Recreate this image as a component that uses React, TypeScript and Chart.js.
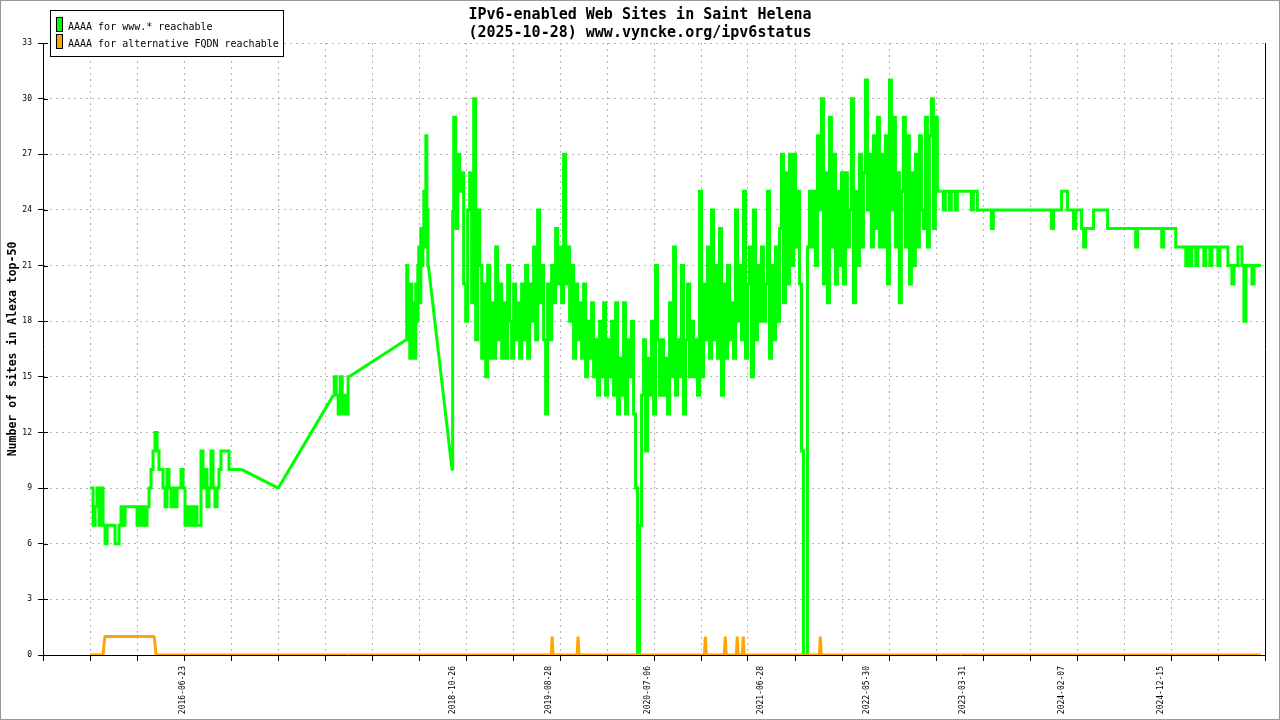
import React, { useEffect, useRef } from "react";
import { Chart, registerables } from "chart.js";

Chart.register(...registerables);

const MONO = "'DejaVu Sans Mono', 'Liberation Mono', monospace";
const DAY_MS = 86400000;
const GRID = "#b4b4b4";
const CLEAR = "rgba(0,0,0,0)";

const chartTitle = ["IPv6-enabled Web Sites in Saint Helena", "(2025-10-28) www.vyncke.org/ipv6status"];
const yAxisTitle = "Number of sites in Alexa top-50";
const seriesNames = ["AAAA for www.* reachable", "AAAA for alternative FQDN reachable"];
const seriesColors = ["#00ff00", "#ffa500"];

// x axis: dates, unlabeled ticks every ~149 days, labels at specific dates
const axisStartDate = "2015-04-08";
const xTickStepDays = 148.8;
const xTickIntervals = 26;
const xLabelDates = [
  "2016-06-23", "2018-10-26", "2019-08-28", "2020-07-06", "2021-06-28",
  "2022-05-30", "2023-03-31", "2024-02-07", "2024-12-15",
];
const yMax = 33;
const yStep = 3;

// ---- green series: AAAA for www.* reachable (regularly sampled runs + isolated samples) ----
const earlyRange = ["2015-09-04", "2016-12-28"];
const earlyValues = [
  9, 9, 7, 8, 9, 7, 9, 7, 6, 7,
  7, 7, 7, 6, 6, 7, 8, 7, 8, 8,
  8, 8, 8, 8, 7, 8, 7, 8, 7, 8,
  9, 10, 11, 12, 11, 10, 10, 9, 8, 10,
  9, 8, 9, 8, 9, 9, 10, 9, 7, 8,
  7, 8, 7, 8, 7, 7, 11, 9, 10, 8,
  9, 11, 9, 8, 9, 10, 11, 11, 11, 11,
  10, 10, 10, 10, 10, 10, 10,
];
const gapDates = ["2017-04-22"];
const gapValues = [9];
const clusterRange = ["2017-10-13", "2017-12-02"];
const clusterValues = [14, 15, 14, 13, 15, 13, 14, 13, 15];
const midRange = ["2018-06-01", "2018-08-10"];
const midValues = [17, 21, 17, 19, 16, 20, 17, 16, 19, 16, 20, 18, 21, 22, 19, 23, 21, 22, 25, 22, 28, 24, 21];
const dipDates = ["2018-10-24"];
const dipValues = [10];
const denseRange = ["2018-10-26", "2023-01-17"];
const denseValues = [
  24, 29, 23, 27, 25, 26, 20, 18, 24, 26,
  19, 30, 17, 24, 21, 16, 20, 15, 21, 16,
  19, 16, 22, 17, 20, 16, 19, 16, 21, 18,
  16, 20, 17, 19, 16, 20, 17, 21, 16, 20,
  18, 22, 17, 24, 19, 21, 17, 13, 20, 17,
  21, 19, 23, 20, 22, 19, 27, 20, 22, 18,
  21, 16, 20, 17, 19, 16, 20, 15, 18, 16,
  19, 15, 17, 14, 18, 15, 19, 14, 17, 15,
  18, 14, 19, 13, 16, 14, 19, 13, 17, 15,
  18, 13, 9, 0, 7, 14, 17, 11, 16, 14,
  18, 13, 21, 17, 14, 17, 14, 16, 13, 19,
  15, 22, 14, 17, 15, 21, 13, 17, 20, 15,
  18, 15, 17, 14, 25, 15, 20, 17, 22, 16,
  24, 17, 21, 16, 23, 14, 20, 16, 21, 17,
  19, 16, 24, 18, 21, 17, 25, 16, 20, 22,
  15, 24, 17, 21, 18, 22, 18, 20, 25, 16,
  21, 17, 22, 18, 23, 27, 19, 26, 20, 27,
  21, 27, 22, 25, 20, 11, 0, 0, 22, 25,
  22, 25, 21, 28, 24, 30, 20, 26, 19, 29,
  22, 27, 20, 25, 21, 26, 20, 26, 22, 24,
  30, 19, 25, 21, 27, 22, 26, 31, 24, 27,
  22, 28, 23, 29, 22, 27, 22, 28, 20, 31,
  24, 29, 22, 26, 19, 25, 29, 22, 28, 20,
  26, 21, 27, 22, 28, 24, 23, 29, 22, 28,
  30, 23, 29, 25, 25,
];
const lateRange = ["2023-01-23", "2025-10-28"];
const lateValues = [
  25, 24, 25, 25, 24, 25, 25, 24, 25, 25,
  25, 25, 25, 25, 25, 24, 25, 25, 24, 24,
  24, 24, 24, 24, 24, 23, 24, 24, 24, 24,
  24, 24, 24, 24, 24, 24, 24, 24, 24, 24,
  24, 24, 24, 24, 24, 24, 24, 24, 24, 24,
  24, 24, 24, 24, 24, 23, 24, 24, 24, 24,
  25, 25, 25, 24, 24, 24, 23, 24, 24, 24,
  23, 22, 23, 23, 23, 23, 24, 24, 24, 24,
  24, 24, 24, 23, 23, 23, 23, 23, 23, 23,
  23, 23, 23, 23, 23, 23, 23, 22, 23, 23,
  23, 23, 23, 23, 23, 23, 23, 23, 23, 23,
  22, 23, 23, 23, 23, 23, 23, 22, 22, 22,
  22, 22, 21, 22, 21, 22, 22, 21, 22, 22,
  22, 21, 22, 22, 21, 22, 22, 22, 21, 22,
  22, 22, 22, 21, 21, 20, 21, 21, 22, 22,
  21, 18, 21, 21, 21, 20, 21, 21, 21, 21,
];

// ---- orange series: AAAA for alternative FQDN reachable ----
const orangeDates = [
  "2015-09-04", "2015-10-15", "2015-10-21", "2016-03-25", "2016-03-31",
  "2019-09-03", "2019-09-06", "2019-09-09",
  "2019-11-24", "2019-11-27", "2019-11-30",
  "2020-12-31", "2021-01-03", "2021-01-06",
  "2021-03-04", "2021-03-07", "2021-03-10",
  "2021-04-11", "2021-04-14", "2021-04-17",
  "2021-04-30", "2021-05-03", "2021-05-06",
  "2021-12-30", "2022-01-02", "2022-01-05",
  "2025-10-28",
];
const orangeValues = [
  0, 0, 1, 1, 0,
  0, 1, 0,
  0, 1, 0,
  0, 1, 0,
  0, 1, 0,
  0, 1, 0,
  0, 1, 0,
  0, 1, 0,
  0,
];

type Pt = { x: number; y: number | null };
const toMs = (s: string) => Date.parse(s + "T00:00:00Z");
const spread = (range: string[], values: number[]): Pt[] => {
  const a = toMs(range[0]);
  const b = toMs(range[1]);
  const n = values.length;
  return values.map((y, i) => ({ x: a + ((b - a) * i) / (n - 1), y }));
};
const singles = (dates: string[], values: number[]): Pt[] => dates.map((d, i) => ({ x: toMs(d), y: values[i] }));

// regularly sampled runs are drawn as steps, isolated samples are joined by straight lines
const runs = [
  spread(earlyRange, earlyValues),
  spread(clusterRange, clusterValues),
  spread(midRange, midValues),
  spread(denseRange, denseValues),
  spread(lateRange, lateValues),
];
const gapPts = singles(gapDates, gapValues);
const dipPts = singles(dipDates, dipValues);
const first = (a: Pt[]) => a[0];
const last = (a: Pt[]) => a[a.length - 1];
const brk = (a: Pt[]): Pt => ({ x: last(a).x + 1, y: null });

const greenRunPoints: Pt[] = runs.flatMap((r, i) => (i < runs.length - 1 ? [...r, brk(r)] : r));
const greenLinkPoints: Pt[] = [
  last(runs[0]), ...gapPts, first(runs[1]), brk(runs[1]),
  last(runs[1]), first(runs[2]), brk(runs[2]),
  last(runs[2]), ...dipPts, first(runs[3]), brk(runs[3]),
  last(runs[3]), first(runs[4]),
];
const orangePoints = singles(orangeDates, orangeValues);

const innerTicks = {
  id: "innerTicks",
  afterDraw(chart: any) {
    const y = chart.scales.y;
    const left = chart.chartArea.left;
    const ctx = chart.ctx;
    ctx.save();
    ctx.strokeStyle = "#000";
    ctx.lineWidth = 1;
    ctx.beginPath();
    for (let v = yStep; v <= yMax; v += yStep) {
      const py = Math.round(y.getPixelForValue(v)) + 0.5;
      ctx.moveTo(left, py);
      ctx.lineTo(left + 5, py);
    }
    ctx.stroke();
    ctx.restore();
  },
};

export default function App() {
  const ref = useRef<HTMLCanvasElement>(null);

  useEffect(() => {
    const xMin = toMs(axisStartDate);
    const stepMs = xTickStepDays * DAY_MS;
    const xMax = xMin + xTickIntervals * stepMs;
    const gridValues = Array.from({ length: xTickIntervals + 1 }, (_, k) => xMin + k * stepMs);
    const labelValues = xLabelDates.map(toMs);
    const labelByValue = new Map<number, string>(labelValues.map((v, i) => [v, xLabelDates[i]]));
    const isLabel = (ctx: any) => !!ctx.tick && labelByValue.has(ctx.tick.value);

    const common = { borderWidth: 3, pointRadius: 0, fill: false, spanGaps: false };
    const chart = new Chart(ref.current as HTMLCanvasElement, {
      type: "line",
      data: {
        datasets: [
          {
            ...common,
            label: seriesNames[1],
            data: orangePoints,
            borderColor: seriesColors[1],
            backgroundColor: seriesColors[1],
            borderJoinStyle: "bevel",
            order: 0,
          },
          {
            ...common,
            label: seriesNames[0],
            data: greenRunPoints,
            borderColor: seriesColors[0],
            backgroundColor: seriesColors[0],
            stepped: "middle",
            borderJoinStyle: "miter",
            order: 1,
          },
          {
            ...common,
            label: seriesNames[0],
            data: greenLinkPoints,
            borderColor: seriesColors[0],
            backgroundColor: seriesColors[0],
            borderJoinStyle: "bevel",
            order: 2,
          },
        ],
      },
      options: {
        animation: false,
        responsive: false,
        events: [],
        layout: { padding: { top: 43, right: 15, bottom: 0, left: 0 } },
        elements: {
          point: { radius: 0 },
          line: { tension: 0, borderCapStyle: "butt" },
        },
        plugins: {
          legend: { display: false },
          tooltip: { enabled: false },
          title: { display: false },
        },
        scales: {
          x: {
            type: "linear",
            min: xMin,
            max: xMax,
            afterBuildTicks: (s: any) => {
              s.ticks = [...gridValues.map((v) => ({ value: v })), ...labelValues.map((v) => ({ value: v }))];
            },
            afterFit: (s: any) => {
              s.height = 65;
            },
            ticks: {
              autoSkip: false,
              minRotation: 90,
              maxRotation: 90,
              padding: 5,
              color: "#000",
              font: { family: MONO, size: 8 },
              callback: (v: any) => labelByValue.get(v) ?? "",
            },
            grid: {
              color: (ctx: any) =>
                isLabel(ctx) || ctx.index === 0 || ctx.index === xTickIntervals ? CLEAR : GRID,
              tickColor: (ctx: any) => (isLabel(ctx) ? CLEAR : "#000"),
              tickLength: 6,
              lineWidth: 1,
              tickWidth: 1,
            },
            border: { display: true, color: "#000", width: 1, dash: [2, 4] },
          },
          y: {
            position: "left",
            min: 0,
            max: yMax,
            afterFit: (s: any) => {
              s.width = 43;
            },
            ticks: {
              stepSize: yStep,
              padding: 6,
              color: "#000",
              font: { family: MONO, size: 8 },
            },
            grid: {
              color: (ctx: any) => (ctx.index === 0 ? CLEAR : GRID),
              tickColor: "#000",
              tickLength: 5,
              lineWidth: 1,
            },
            border: { display: true, color: "#000", width: 1, dash: [2, 4] },
            title: {
              display: true,
              text: yAxisTitle,
              color: "#000",
              font: { family: MONO, size: 11.5, weight: "bold" },
              padding: { top: 6, bottom: 0 },
            },
          },
          y2: {
            position: "right",
            min: 0,
            max: yMax,
            afterFit: (s: any) => {
              s.width = 0;
            },
            ticks: { display: false },
            grid: { drawOnChartArea: false, drawTicks: false },
            border: { display: true, color: "#000", width: 1 },
          },
        },
      } as any,
      plugins: [innerTicks],
    });
    return () => chart.destroy();
  }, []);

  const legendRow = (i: number, top: number, swatchTop: number) => (
    <React.Fragment key={i}>
      <div
        style={{
          position: "absolute",
          left: 5,
          top: swatchTop,
          width: 7,
          height: 15,
          boxSizing: "border-box",
          border: "1px solid #000",
          background: seriesColors[i],
        }}
      />
      <div
        style={{
          position: "absolute",
          left: 17,
          top,
          font: `10px/12px ${MONO}`,
          color: "#000",
          whiteSpace: "nowrap",
        }}
      >
        {seriesNames[i]}
      </div>
    </React.Fragment>
  );

  return (
    <div style={{ position: "fixed", left: 0, top: 0, width: 1280, height: 720, background: "#fff" }}>
      <canvas ref={ref} width={1280} height={720} style={{ display: "block", width: 1280, height: 720 }} />
      <div
        style={{
          position: "absolute",
          left: 0,
          top: 5,
          width: 1280,
          textAlign: "center",
          font: `bold 15px/18px ${MONO}`,
          color: "#000",
        }}
      >
        <div>{chartTitle[0]}</div>
        <div>{chartTitle[1]}</div>
      </div>
      <div
        style={{
          position: "absolute",
          left: 50,
          top: 10,
          width: 234,
          height: 47,
          boxSizing: "border-box",
          border: "1px solid #000",
          background: "#fff",
        }}
      >
        {legendRow(0, 10, 6)}
        {legendRow(1, 27, 23)}
      </div>
      <div
        style={{
          position: "absolute",
          left: 0,
          top: 0,
          width: 1280,
          height: 720,
          boxSizing: "border-box",
          border: "1px solid #999",
          pointerEvents: "none",
        }}
      />
    </div>
  );
}
